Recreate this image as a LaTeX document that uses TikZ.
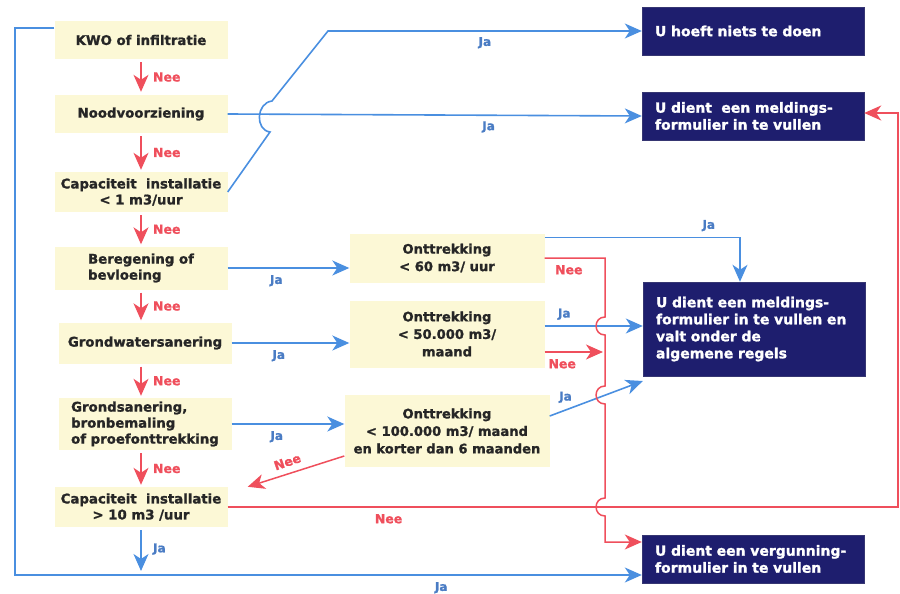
\documentclass[tikz,border=0pt]{standalone}
\usepackage{fontspec}
\setmainfont{DejaVu Sans}[BoldFeatures={FakeBold=1.3}]
\usetikzlibrary{arrows.meta}

\definecolor{jablauw}{HTML}{4A8FE0}
\definecolor{jatekstkleur}{HTML}{4A7CC4}
\definecolor{neerood}{HTML}{EF4F5C}
\definecolor{vraaggeel}{HTML}{FCF8D6}
\definecolor{donkerblauw}{HTML}{1E1E6E}

\begin{document}
\begin{tikzpicture}[
    x=1pt, y=-1pt,
    >={Stealth[length=17pt,width=15pt,inset=5pt]},
    vraag/.style={fill=vraaggeel, minimum width=173pt, inner sep=2pt,
        text=black!85, align=center,
        font=\bfseries\fontsize{13.3}{16}\selectfont},
    midden/.style={vraag, minimum width=195pt,
        font=\bfseries\fontsize{13.1}{17.5}\selectfont},
    uitkomst/.style={fill=donkerblauw, draw=donkerblauw!75!gray,
        text=white, align=left, text width=196pt, inner xsep=13pt,
        minimum height=48pt, font=\bfseries\fontsize{14}{17}\selectfont},
    ja/.style={draw=jablauw, line width=1.6pt},
    nee/.style={draw=neerood, line width=1.5pt},
    jatekst/.style={text=jatekstkleur, font=\bfseries\fontsize{12}{12}\selectfont},
    neetekst/.style={text=neerood, font=\bfseries\fontsize{12.5}{12.5}\selectfont}
]

\useasboundingbox (0,0) rectangle (900,594);

% Vragen linker kolom
\node[vraag, minimum height=38pt] (kwo) at (141,40) {KWO of infiltratie};
\node[vraag, minimum height=38pt] (nood) at (141,114) {Noodvoorziening};
\node[vraag, minimum height=40pt] (cap1) at (141,192) {Capaciteit\ \ installatie\\< 1 m3/uur};
\node[vraag, minimum height=43pt, align=left] (bereg) at (141,268) {Beregening of\\bevloeing};
\node[vraag, minimum height=41pt] (gws) at (145,343) {Grondwatersanering};
\node[vraag, minimum height=52pt, align=left] (gs) at (145,424) {Grondsanering,\\bronbemaling\\of proefonttrekking};
\node[vraag, minimum height=40pt] (cap10) at (141,507) {Capaciteit\ \ installatie\\> 10 m3 /uur};

% Onttrekkingen
\node[midden, minimum height=49pt] (ont60) at (447,258) {Onttrekking\\< 60 m3/ uur};
\node[midden, minimum height=67pt] (ont50) at (447,334) {Onttrekking\\< 50.000 m3/\\maand};
\node[midden, minimum width=205pt, minimum height=72pt] (ont100) at (447,431) {Onttrekking\\< 100.000 m3/ maand\\en korter dan 6 maanden};

% Uitkomsten
\node[uitkomst] (niets) at (753,31) {U hoeft niets te doen};
\node[uitkomst] (melding) at (753,116) {U dient\ \ een meldings-\\formulier in te vullen};
\node[uitkomst, minimum height=94pt] (regels) at (754,329) {U dient een meldings-\\formulier in te vullen en\\valt onder de\\algemene regels};
\node[uitkomst] (vergunning) at (753,559) {U dient een vergunning-\\formulier in te vullen};

% Nee-pijlen naar beneden
\draw[nee,->,shorten <=3pt,shorten >=3pt] (kwo.south) -- node[neetekst, right=8pt] (nee1) {Nee} (nood.north);
\draw[nee,->,shorten <=3pt,shorten >=2pt] (nood.south) -- node[neetekst, right=8pt] (nee2) {Nee} (cap1.north);
\draw[nee,->,shorten <=3pt,shorten >=2pt] (cap1.south) -- node[neetekst, right=8pt] (nee3) {Nee} (bereg.north);
\draw[nee,->,shorten <=3pt,shorten >=2pt] (bereg.south) -- node[neetekst, right=8pt] (nee4) {Nee} (bereg.south |- gws.north);
\draw[nee,->,shorten <=3pt,shorten >=2pt] (bereg.south |- gws.south) -- node[neetekst, right=8pt] (nee5) {Nee} (bereg.south |- gs.north);
\draw[nee,->,shorten <=3pt,shorten >=2pt] (bereg.south |- gs.south) -- node[neetekst, right=8pt] (nee6) {Nee} (cap10.north);

% Ja-pijl onderaan
\coordinate (jaeinde) at (141,571);
\draw[ja,->,shorten <=3pt] (cap10.south) -- node[jatekst, right=8pt] (ja0) {Ja} (jaeinde);

% Ja bovenaan, met sprongetje
\draw[ja,->] (cap1.east) -- (270,132) .. controls (255,130) and (256,103) .. (272,101)
    -- (328,31) -- node[jatekst, below=2pt] (ja1) {Ja} (niets.west);
\draw[ja,->] (nood.east) -- node[jatekst, below=2pt, pos=0.63] (ja2) {Ja} (melding.west);

% Ja naar de onttrekkingen
\draw[ja,->] (bereg.east) -- node[jatekst, below=3pt, pos=0.4] (ja3) {Ja} (bereg.east -| ont60.west);
\draw[ja,->] (gws.east) -- node[jatekst, below=3pt, pos=0.4] (ja4) {Ja} (gws.east -| ont50.west);
\draw[ja,->] (gs.east) -- node[jatekst, below=3pt, pos=0.4] (ja5) {Ja} (gs.east -| ont100.west);

% Buitenste lus
\draw[ja,->] ([yshift=12pt]kwo.west) -| (15,575) -- node[jatekst, below=3pt, pos=0.68] (ja6) {Ja} ([yshift=-16pt]vergunning.west);

% Uitgangen onttrekkingen
\draw[ja,->] ([yshift=-4pt]ont60.north east) -| node[jatekst, above=2pt, pos=0.42] (ja7) {Ja} ([xshift=-14pt]regels.north);
\draw[ja,->] ([yshift=8pt]ont50.east) -- node[jatekst, above=2pt, pos=0.2] (ja8) {Ja} ([yshift=3pt]regels.west);
\draw[ja,->] ([yshift=15pt]ont100.east) -- node[jatekst, above=3pt, pos=0.17] (ja9) {Ja} ([yshift=-52pt]regels.west);

% Rode verzamellijn met sprongetjes
\coordinate (roodboven) at (605,258);
\coordinate (roodmidden) at (603,352);
\draw[nee,->] (ont60.east) -- node[neetekst, below=3pt, pos=0.4] (nee7) {Nee} (roodboven)
    -- (605,317) to[out=180,in=180,looseness=1.7] (605,335)
    -- (605,386) to[out=180,in=180,looseness=1.7] (605,404)
    -- (605,498) to[out=180,in=180,looseness=1.7] (605,516)
    |- ([yshift=17pt]vergunning.west);
\draw[nee,->] ([yshift=-18pt]ont50.east) -- node[neetekst, below=3pt, pos=0.3] (nee8) {Nee} (roodmidden);
\draw[nee,->] ([yshift=-25pt]ont100.west) -- node[neetekst, rotate=19, above=3pt, pos=0.55] (nee9) {Nee} ([xshift=20pt]cap10.north east);

% Rode lijn rechtsom
\draw[nee,->] (cap10.east) -- node[neetekst, below=3pt, pos=0.24] (nee10) {Nee} (898,507) |- ([yshift=3pt]melding.east);

\end{tikzpicture}
\end{document}
